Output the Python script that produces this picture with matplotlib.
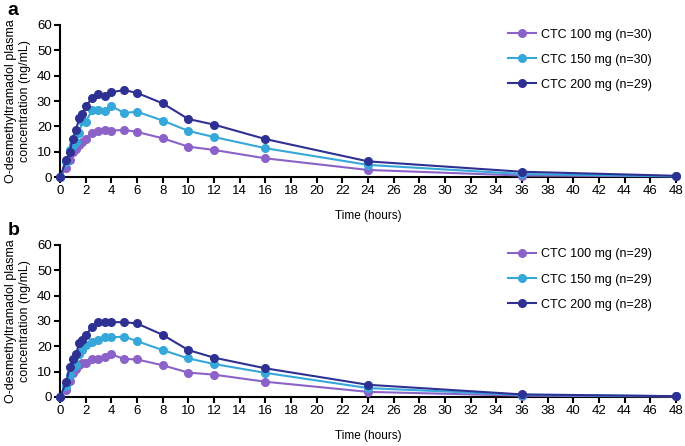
import matplotlib
matplotlib.use("Agg")
import matplotlib.pyplot as plt

plt.rcParams["font.family"] = ["Liberation Sans", "DejaVu Sans"]

time_h = [0, 0.5, 0.75, 1, 1.25, 1.5, 1.75, 2, 2.5, 3, 3.5, 4, 5, 6, 8, 10, 12, 16, 24, 36, 48]

# panel a
a_100 = [0, 3.6, 6.6, 9.7, 11, 12.5, 14, 15.2, 17.5, 18, 18.6, 18.3, 18.6, 17.8, 15.3, 12, 10.7, 7.4, 2.8, 0.6, 0.3]
a_150 = [0, 6, 10.5, 12.5, 14, 17.5, 22, 21.8, 26.3, 26.5, 26, 28, 25.3, 25.8, 22.3, 18.2, 15.8, 11.4, 4.8, 1.2, 0.3]
a_200 = [0, 6.8, 10, 15.2, 18.7, 23.3, 24.9, 28, 31, 32.8, 32, 33.5, 34.3, 33.2, 29.1, 22.9, 20.7, 15.0, 6.2, 2.1, 0.5]

# panel b
b_100 = [0, 2.8, 6.2, 9.3, 11, 12.5, 13.3, 13.5, 14.8, 14.8, 15.8, 16.8, 15, 14.8, 12.5, 9.6, 8.8, 6, 2, 0.5, 0.2]
b_150 = [0, 4.5, 8.5, 12, 12.5, 16.8, 18.5, 20.5, 21.8, 22.3, 23.8, 23.5, 23.8, 22, 18.5, 15.2, 13, 9.5, 3.5, 0.8, 0.3]
b_200 = [0, 6, 12, 15, 17, 21.2, 22.5, 24.5, 27.5, 29.5, 29.5, 29.5, 29.5, 29, 24.5, 18.5, 15.5, 11.3, 4.8, 1, 0.3]

labels_a = ["CTC 100 mg (n=30)", "CTC 150 mg (n=30)", "CTC 200 mg (n=29)"]
labels_b = ["CTC 100 mg (n=29)", "CTC 150 mg (n=29)", "CTC 200 mg (n=28)"]
colors = ["#8B62C8", "#35A7D9", "#2E3192"]

fig = plt.figure(figsize=(6.85, 4.46), dpi=100)
ax_a = fig.add_axes([0.0876, 0.603, 0.899, 0.341])
ax_b = fig.add_axes([0.0876, 0.110, 0.899, 0.341])


def draw(ax, series, labels, tag):
    for y, lab, c in zip(series, labels, colors):
        ax.plot(time_h, y, "-o", color=c, lw=1.5, ms=5.5, label=lab, clip_on=False, zorder=3)
    ax.set_xlim(0, 48)
    ax.set_ylim(0, 60)
    ax.set_xticks(range(0, 49, 2))
    ax.set_yticks(range(0, 61, 10))
    for s in ["top", "right"]:
        ax.spines[s].set_visible(False)
    for s in ["left", "bottom"]:
        ax.spines[s].set_linewidth(1.5)
    ax.tick_params(width=1.5, length=4, labelsize=9.5, pad=2)
    ax.set_xlabel("Time (hours)", fontsize=8.5, labelpad=9)
    ax.set_ylabel("O-desmethyltramadol plasma\nconcentration (ng/mL)", fontsize=9, labelpad=4)
    ax.legend(loc="upper right", bbox_to_anchor=(0.98, 1.05), frameon=False, fontsize=9,
              handlelength=2.3, labelspacing=1.05, handletextpad=0.4)
    ax.text(-0.085, 1.15, tag, transform=ax.transAxes, fontsize=14, fontweight="bold", va="top")


draw(ax_a, [a_100, a_150, a_200], labels_a, "a")
draw(ax_b, [b_100, b_150, b_200], labels_b, "b")

fig.savefig("out.png", dpi=100)
